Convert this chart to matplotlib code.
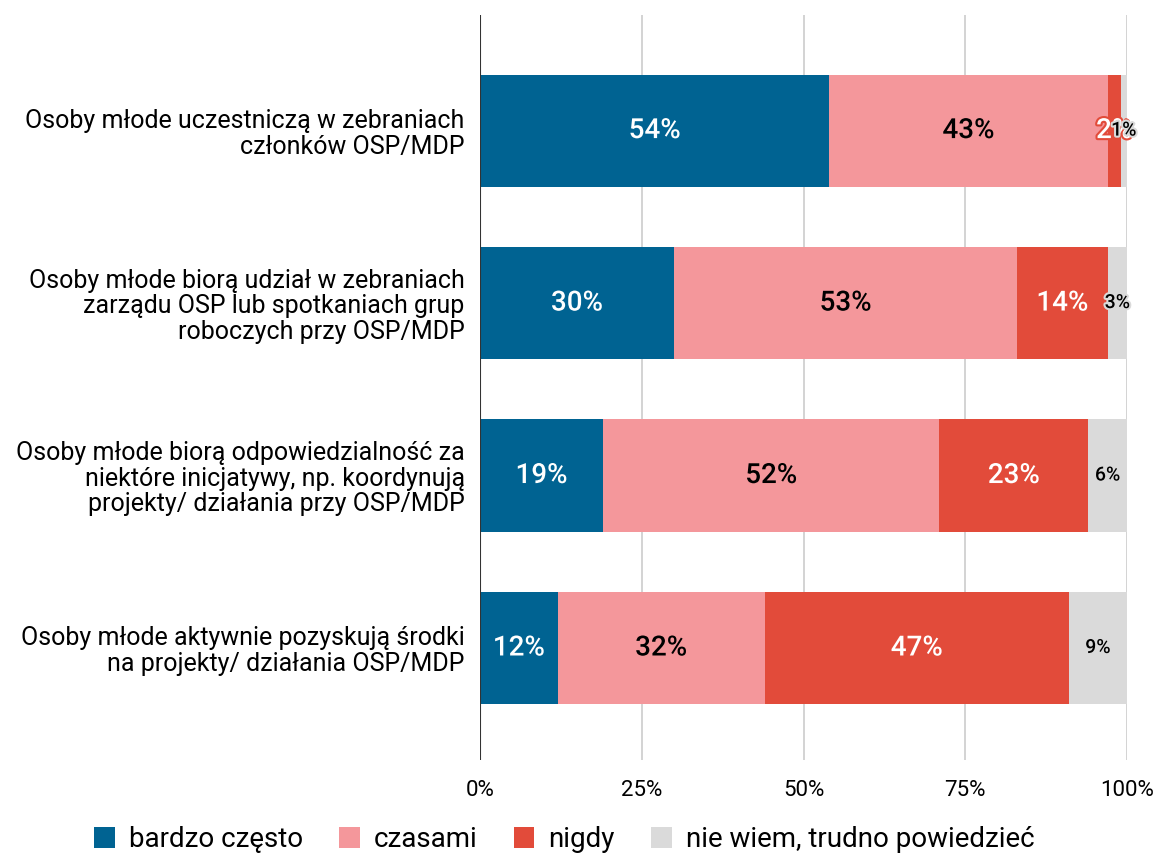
import matplotlib.pyplot as plt
import matplotlib.patheffects as pe
import numpy as np

plt.rcParams['font.family'] = ['Roboto', 'DejaVu Sans']

kategorie = [
    "Osoby młode uczestniczą w zebraniach\nczłonków OSP/MDP",
    "Osoby młode biorą udział w zebraniach\nzarządu OSP lub spotkaniach grup\nroboczych przy OSP/MDP",
    "Osoby młode biorą odpowiedzialność za\nniektóre inicjatywy, np. koordynują\nprojekty/ działania przy OSP/MDP",
    "Osoby młode aktywnie pozyskują środki\nna projekty/ działania OSP/MDP",
]
serie = ["bardzo często", "czasami", "nigdy", "nie wiem, trudno powiedzieć"]
bardzo_czesto = [54, 30, 19, 12]
czasami = [43, 53, 52, 32]
nigdy = [2, 14, 23, 47]
nie_wiem = [1, 3, 6, 9]

kolory = ["#006392", "#F4979B", "#E24B3A", "#DADADA"]
kolor_tekstu = ["white", "black", "white", "black"]
rozmiar_tekstu = [20, 20, 20, 14]

fig = plt.figure(figsize=(11.56, 8.55), dpi=100)
ax = fig.add_axes([0.4152, 0.111, 0.5598, 0.8714])

y = np.arange(len(kategorie))
left = np.zeros(len(kategorie))
for seria, wartosci, kolor, tk, rt in zip(serie, [bardzo_czesto, czasami, nigdy, nie_wiem],
                                          kolory, kolor_tekstu, rozmiar_tekstu):
    wartosci = np.array(wartosci, dtype=float)
    ax.barh(y, wartosci, left=left, height=0.65, color=kolor, label=seria, zorder=2)
    for yi, l, w in zip(y, left, wartosci):
        efekt = [pe.withStroke(linewidth=3, foreground=kolor)]
        ax.text(l + w / 2, yi, f"{w:.0f}%", ha="center", va="center", fontweight="medium",
                color=tk, fontsize=rt, zorder=3, path_effects=efekt)
    left += wartosci

ax.set_xlim(0, 100)
ax.set_ylim(3.65, -0.67)
ax.set_yticks(y)
ax.set_yticklabels(kategorie, fontsize=18, linespacing=1.08)
ax.set_xticks([0, 25, 50, 75, 100])
ax.set_xticklabels(["0%", "25%", "50%", "75%", "100%"], fontsize=16)
ax.tick_params(axis="y", length=0, pad=11)
ax.tick_params(axis="x", length=0, pad=14)

for s in ax.spines.values():
    s.set_visible(False)
ax.grid(axis="x", color="#cccccc", linewidth=1.2, zorder=0)
ax.axvline(0, color="#333333", linewidth=1.5, zorder=4)

leg = ax.legend(loc="center", bbox_to_anchor=(0.13, -0.107), ncol=4, frameon=False,
                fontsize=20, handlelength=0.75, handleheight=0.75, handletextpad=0.5,
                columnspacing=1.3)

fig.savefig("out.png", dpi=100)
